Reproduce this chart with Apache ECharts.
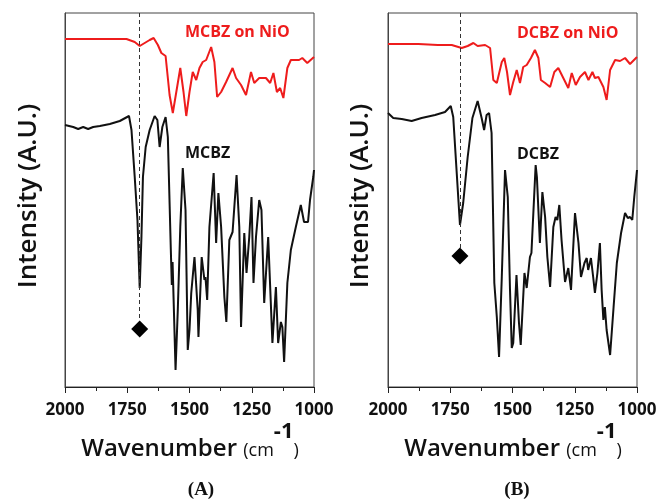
<!DOCTYPE html>
<html>
<head>
<meta charset="utf-8">
<script src="https://cdn.jsdelivr.net/npm/echarts@6/dist/echarts.min.js"></script>
<style>
  html, body { margin: 0; padding: 0; background: #fff; }
  #chart { width: 662px; height: 500px; }
</style>
</head>
<body>
<div id="chart"></div>
<script>
// tick labels for wavenumber axis
const xTicks = [2000, 1750, 1500, 1250, 1000];

// panel A, MCBZ on NiO (red)
const redAWave = [2000, 1900, 1800, 1753, 1720, 1700, 1680, 1660, 1644, 1627, 1613, 1596, 1580, 1567, 1560, 1543, 1537, 1524, 1513, 1500, 1487, 1473, 1460, 1447, 1433, 1413, 1400, 1389, 1373, 1353, 1327, 1313, 1293, 1273, 1253, 1240, 1220, 1193, 1176, 1163, 1149, 1136, 1123, 1107, 1093, 1060, 1047, 1027, 1000];
const redAInt = [348, 348, 348, 348, 345, 341, 344, 347, 349, 342, 334, 331, 292, 274, 274, 310, 319, 295, 271, 295, 315, 307, 319, 325, 327, 340, 325, 290, 295, 305, 319, 309, 302, 292, 315, 304, 309, 309, 304, 314, 295, 299, 289, 319, 327, 327, 329, 324, 330];

// panel A, MCBZ (black)
const blackAWave = [2000, 1967, 1947, 1927, 1907, 1887, 1860, 1820, 1780, 1743, 1733, 1720, 1709, 1700, 1693, 1687, 1676, 1660, 1640, 1629, 1620, 1609, 1596, 1587, 1575, 1571, 1568, 1556, 1547, 1537, 1527, 1516, 1507, 1500, 1493, 1480, 1467, 1464, 1451, 1440, 1436, 1429, 1420, 1403, 1393, 1384, 1373, 1360, 1352, 1340, 1327, 1311, 1300, 1293, 1280, 1271, 1260, 1251, 1243, 1233, 1220, 1211, 1200, 1184, 1167, 1153, 1144, 1133, 1127, 1120, 1107, 1093, 1073, 1053, 1040, 1024, 1016, 1003, 1000];
const blackAInt = [262, 260, 258, 260, 258, 260, 261, 263, 266, 271, 257, 210, 167, 99, 150, 210, 240, 257, 271, 267, 240, 260, 270, 250, 137, 102, 125, 17, 77, 160, 219, 177, 37, 57, 94, 130, 77, 50, 130, 107, 110, 87, 160, 214, 144, 194, 160, 90, 65, 147, 155, 212, 160, 60, 154, 114, 150, 190, 104, 150, 187, 177, 84, 150, 44, 100, 44, 65, 60, 25, 104, 137, 160, 182, 165, 165, 187, 210, 217];

// panel B, DCBZ on NiO (red)
const redBWave = [2000, 1940, 1878, 1800, 1744, 1704, 1680, 1657, 1640, 1610, 1590, 1577, 1563, 1543, 1533, 1522, 1510, 1497, 1483, 1470, 1457, 1443, 1426, 1410, 1396, 1386, 1369, 1349, 1332, 1316, 1296, 1276, 1262, 1246, 1229, 1209, 1195, 1179, 1169, 1155, 1135, 1122, 1108, 1088, 1068, 1048, 1028, 1000];
const redBInt = [343, 343, 343, 342, 342, 339, 341, 344, 341, 342, 339, 307, 304, 325, 329, 315, 292, 305, 317, 304, 320, 322, 329, 337, 329, 307, 304, 300, 315, 319, 309, 299, 314, 302, 310, 315, 307, 315, 309, 310, 300, 287, 317, 327, 326, 329, 323, 330];

// panel B, DCBZ (black)
const blackBWave = [2000, 1979, 1945, 1905, 1865, 1811, 1771, 1748, 1738, 1724, 1711, 1698, 1680, 1661, 1640, 1624, 1614, 1604, 1594, 1584, 1573, 1563, 1554, 1543, 1530, 1519, 1510, 1503, 1497, 1484, 1474, 1467, 1452, 1443, 1430, 1424, 1407, 1402, 1390, 1380, 1369, 1360, 1349, 1336, 1327, 1320, 1312, 1303, 1289, 1276, 1265, 1249, 1235, 1225, 1211, 1202, 1196, 1185, 1176, 1169, 1159, 1149, 1142, 1135, 1129, 1122, 1108, 1094, 1081, 1064, 1048, 1037, 1028, 1019, 1011, 1000];
const blackBInt = [274, 269, 268, 266, 269, 272, 275, 281, 270, 214, 162, 184, 230, 269, 286, 269, 257, 272, 274, 254, 104, 70, 30, 110, 217, 190, 97, 39, 44, 112, 64, 42, 114, 99, 130, 134, 222, 210, 144, 195, 170, 130, 100, 160, 170, 167, 182, 147, 105, 119, 97, 174, 144, 110, 124, 129, 117, 129, 110, 94, 114, 144, 97, 67, 80, 57, 32, 80, 124, 154, 174, 169, 170, 167, 190, 217];

// marked C=O band: wavenumber, diamond height, dashed line bottom
const markA = [1700, 58, 66];
const markB = [1711, 131, 139];

const zip = (w, v) => w.map((x, i) => [x, v[i]]);

const chart = echarts.init(document.getElementById('chart'));
const FONT = 'Open Sans';

function xAxisFor(idx) {
  return {
    gridIndex: idx,
    type: 'value',
    inverse: true,
    min: 1000,
    max: 2000,
    interval: 250,
    axisLine: { show: true, lineStyle: { color: '#222', width: 1 } },
    axisTick: { show: true, inside: false, length: 6, lineStyle: { color: '#222' } },
    minorTick: { show: true, splitNumber: 2, length: 4, lineStyle: { color: '#222' } },
    splitLine: { show: false },
    axisLabel: {
      margin: 15,
      color: '#111',
      fontFamily: FONT,
      fontWeight: 'bold',
      fontSize: 17,
      formatter: v => (xTicks.indexOf(v) >= 0 ? String(v) : '')
    }
  };
}
function yAxisFor(idx) {
  return {
    gridIndex: idx,
    type: 'value',
    min: 0,
    max: 374,
    axisLine: { show: true, lineStyle: { color: '#444' } },
    axisTick: { show: false },
    axisLabel: { show: false },
    splitLine: { show: false }
  };
}
function lineSeries(idx, data, color) {
  return {
    type: 'line',
    xAxisIndex: idx,
    yAxisIndex: idx,
    data: data,
    showSymbol: false,
    animation: false,
    lineStyle: { color: color, width: 2 },
    z: 3
  };
}
function markSeries(idx, m) {
  return {
    type: 'scatter',
    xAxisIndex: idx,
    yAxisIndex: idx,
    data: [[m[0], m[1]]],
    symbol: 'diamond',
    symbolSize: [17, 17],
    itemStyle: { color: '#000', opacity: 1 },
    animation: false,
    z: 4,
    markLine: {
      silent: true,
      symbol: ['none', 'none'],
      label: { show: false },
      lineStyle: { color: '#333', type: [4, 3], width: 1 },
      data: [[{ coord: [m[0], 374] }, { coord: [m[0], m[2]] }]],
      animation: false
    }
  };
}
function text(x, y, str, size, color, weight, family) {
  return {
    type: 'text', x: x, y: y,
    style: {
      text: str, fill: color, fontSize: size, fontWeight: weight || 'normal',
      fontFamily: family || FONT, align: 'left', verticalAlign: 'middle'
    }
  };
}
function xName(cx) {
  return {
    type: 'text', x: cx, y: 441,
    style: {
      text: '{a|Wavenumber }{b|(cm}{c|-1}{b|)}',
      align: 'center', verticalAlign: 'middle', fill: '#111',
      rich: {
        a: { fontFamily: FONT, fontSize: 24, fontWeight: 600, lineHeight: 40, verticalAlign: 'bottom', fill: '#111' },
        b: { fontFamily: FONT, fontSize: 18, lineHeight: 40, verticalAlign: 'bottom', fill: '#111', padding: [0, 0, 1, 0] },
        c: { fontFamily: FONT, fontSize: 22, fontWeight: 'bold', lineHeight: 40, verticalAlign: 'top', fill: '#111' }
      }
    }
  };
}
function yName(cx) {
  return {
    type: 'text', x: cx, y: 196, rotation: Math.PI / 2,
    style: {
      text: 'Intensity (A.U.)', fill: '#111', fontSize: 26, fontWeight: 600,
      fontFamily: FONT, align: 'center', verticalAlign: 'middle'
    }
  };
}

const option = {
  backgroundColor: '#fff',
  animation: false,
  grid: [
    { left: 65, top: 13, width: 249, height: 374, show: true, borderColor: '#444', borderWidth: 1 },
    { left: 388, top: 13, width: 249, height: 374, show: true, borderColor: '#444', borderWidth: 1 }
  ],
  xAxis: [xAxisFor(0), xAxisFor(1)],
  yAxis: [yAxisFor(0), yAxisFor(1)],
  series: [
    lineSeries(0, zip(redAWave, redAInt), '#ee1c1c'),
    lineSeries(0, zip(blackAWave, blackAInt), '#111'),
    markSeries(0, markA),
    lineSeries(1, zip(redBWave, redBInt), '#ee1c1c'),
    lineSeries(1, zip(blackBWave, blackBInt), '#111'),
    markSeries(1, markB)
  ],
  graphic: [
    text(185, 32, 'MCBZ on NiO', 16, '#ee1c1c', 'bold'),
    text(185, 153, 'MCBZ', 16, '#111', 'bold'),
    text(517, 33, 'DCBZ on NiO', 16, '#ee1c1c', 'bold'),
    text(517, 154, 'DCBZ', 16, '#111', 'bold'),
    xName(190),
    xName(513),
    yName(29),
    yName(361),
    {
      type: 'text', x: 201, y: 490,
      style: { text: '(A)', fill: '#111', fontSize: 19, fontWeight: 'bold', fontFamily: 'Liberation Serif', align: 'center', verticalAlign: 'middle' }
    },
    {
      type: 'text', x: 517, y: 490,
      style: { text: '(B)', fill: '#111', fontSize: 19, fontWeight: 'bold', fontFamily: 'Liberation Serif', align: 'center', verticalAlign: 'middle' }
    }
  ]
};
chart.setOption(option);
</script>
</body>
</html>
